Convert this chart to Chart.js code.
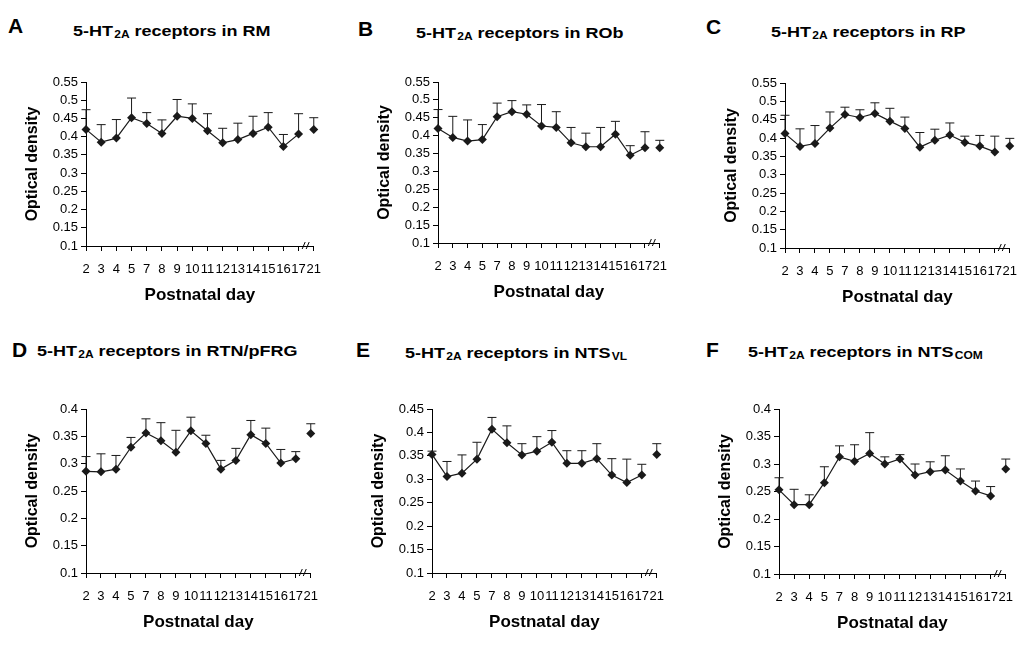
<!DOCTYPE html>
<html>
<head>
<meta charset="utf-8">
<script src="https://cdn.jsdelivr.net/npm/chart.js@4.4.0/dist/chart.umd.min.js"></script>
<style>
  body { margin: 0; background: #fff; width: 1036px; height: 646px; position: relative; overflow: hidden;
         font-family: "Liberation Sans", Arial, sans-serif; color: #000; }
  .letter { position: absolute; font-weight: bold; font-size: 21px; line-height: 21px; }
  .title { position: absolute; font-weight: bold; font-size: 15px; line-height: 15px; white-space: nowrap;
           transform: scaleX(1.2); transform-origin: left top; }
  .title sub { font-size: 10px; line-height: 0; vertical-align: -2px; margin-left: 1px; }
  canvas { position: absolute; }
</style>
</head>
<body>

<div class="letter" style="left:8px;top:15px">A</div>
<div class="title" style="left:73px;top:23px">5-HT<sub>2A</sub> receptors in RM</div>
<div class="letter" style="left:358px;top:18px">B</div>
<div class="title" style="left:416px;top:25px">5-HT<sub>2A</sub> receptors in ROb</div>
<div class="letter" style="left:706px;top:16px">C</div>
<div class="title" style="left:771px;top:24px">5-HT<sub>2A</sub> receptors in RP</div>

<div class="letter" style="left:12px;top:339px">D</div>
<div class="title" style="left:37px;top:343px">5-HT<sub>2A</sub> receptors in RTN/pFRG</div>
<div class="letter" style="left:356px;top:339px">E</div>
<div class="title" style="left:405px;top:345px">5-HT<sub>2A</sub> receptors in NTS<sub>VL</sub></div>
<div class="letter" style="left:706px;top:339px">F</div>
<div class="title" style="left:748px;top:344px">5-HT<sub>2A</sub> receptors in NTS<sub>COM</sub></div>

<script>
// postnatal days on the x axis (break between 17 and 21)
var days = ['2', '3', '4', '5', '7', '8', '9', '10', '11', '12', '13', '14', '15', '16', '17', '21'];

// optical density, mean and SEM (upper bar only)
var rmMean  = [0.420, 0.385, 0.396, 0.452, 0.436, 0.409, 0.456, 0.450, 0.416, 0.383, 0.392, 0.409, 0.426, 0.373, 0.407, 0.420];
var rmSem   = [0.054, 0.048, 0.051, 0.054, 0.030, 0.037, 0.046, 0.040, 0.047, 0.040, 0.045, 0.047, 0.040, 0.033, 0.056, 0.032];

var robMean = [0.420, 0.395, 0.385, 0.389, 0.453, 0.467, 0.460, 0.427, 0.423, 0.380, 0.369, 0.369, 0.404, 0.345, 0.366, 0.366];
var robSem  = [0.053, 0.059, 0.059, 0.042, 0.038, 0.031, 0.026, 0.060, 0.044, 0.043, 0.038, 0.054, 0.036, 0.027, 0.045, 0.021];

var rpMean  = [0.412, 0.377, 0.385, 0.427, 0.464, 0.456, 0.467, 0.446, 0.426, 0.375, 0.394, 0.408, 0.388, 0.378, 0.362, 0.378];
var rpSem   = [0.050, 0.048, 0.049, 0.044, 0.020, 0.021, 0.029, 0.035, 0.031, 0.040, 0.030, 0.033, 0.017, 0.029, 0.043, 0.021];

var rtnMean = [0.286, 0.285, 0.290, 0.330, 0.356, 0.342, 0.321, 0.360, 0.337, 0.290, 0.306, 0.353, 0.337, 0.301, 0.309, 0.355];
var rtnSem  = [0.027, 0.033, 0.025, 0.018, 0.026, 0.033, 0.040, 0.025, 0.015, 0.016, 0.022, 0.026, 0.028, 0.025, 0.013, 0.018];

var ntsvlMean = [0.353, 0.306, 0.313, 0.343, 0.407, 0.378, 0.352, 0.360, 0.379, 0.334, 0.334, 0.344, 0.309, 0.293, 0.309, 0.353];
var ntsvlSem  = [0.007, 0.032, 0.039, 0.036, 0.025, 0.036, 0.024, 0.031, 0.025, 0.027, 0.027, 0.032, 0.035, 0.050, 0.023, 0.023];

var ntscomMean = [0.253, 0.226, 0.226, 0.266, 0.313, 0.305, 0.319, 0.300, 0.309, 0.280, 0.286, 0.289, 0.269, 0.251, 0.242, 0.291];
var ntscomSem  = [0.022, 0.028, 0.018, 0.029, 0.020, 0.030, 0.038, 0.013, 0.008, 0.020, 0.018, 0.026, 0.022, 0.018, 0.017, 0.018];

// y tick labels
var ticks055 = [0.1, 0.15, 0.2, 0.25, 0.3, 0.35, 0.4, 0.45, 0.5, 0.55];
var ticks045 = [0.1, 0.15, 0.2, 0.25, 0.3, 0.35, 0.4, 0.45];
var ticks040 = [0.1, 0.15, 0.2, 0.25, 0.3, 0.35, 0.4];

var FONT = '"Liberation Sans", Arial, sans-serif';
var YW = 70, XH = 64, PT = 12, PR = 12;

// upward error bars with caps
var errorBars = {
  id: 'errorBars',
  beforeDatasetsDraw: function(chart) {
    var ctx = chart.ctx;
    var ds = chart.data.datasets[0];
    var meta = chart.getDatasetMeta(0);
    var y = chart.scales.y;
    ctx.save();
    ctx.strokeStyle = '#1a1a1a';
    ctx.lineWidth = 1;
    meta.data.forEach(function(pt, i) {
      var top = y.getPixelForValue(ds.data[i] + ds.sem[i]);
      ctx.beginPath();
      ctx.moveTo(pt.x, pt.y);
      ctx.lineTo(pt.x, top);
      ctx.moveTo(pt.x - 4.5, top);
      ctx.lineTo(pt.x + 4.5, top);
      ctx.stroke();
    });
    ctx.restore();
  },
  // axis break "//" between 17 and 21
  afterDraw: function(chart) {
    var ctx = chart.ctx;
    var x = chart.scales.x;
    var n = days.length;
    var xm = (x.getPixelForValue(n - 2) + x.getPixelForValue(n - 1)) / 2;
    var yb = chart.chartArea.bottom;
    ctx.save();
    ctx.strokeStyle = '#000';
    ctx.lineWidth = 1;
    ctx.beginPath();
    ctx.moveTo(xm - 4, yb + 3); ctx.lineTo(xm - 1, yb - 4);
    ctx.moveTo(xm, yb + 3); ctx.lineTo(xm + 3, yb - 4);
    ctx.stroke();
    ctx.restore();
  }
};

function makePanel(mean, sem, yTicks, left, top, right, bottom) {
  var cv = document.createElement('canvas');
  var w = Math.round(right - left) + YW + PR;
  var h = PT + Math.round(bottom - top) + XH;
  cv.width = w;
  cv.height = h;
  cv.style.left = Math.round(left - YW) + 'px';
  cv.style.top = Math.round(top - PT) + 'px';
  document.body.appendChild(cv);

  var last = days.length - 1;
  new Chart(cv, {
    type: 'line',
    data: {
      labels: days,
      datasets: [{
        data: mean,
        sem: sem,
        borderColor: '#1a1a1a',
        borderWidth: 1.2,
        pointStyle: 'rectRot',
        pointRadius: 4.5,
        pointBackgroundColor: '#1a1a1a',
        pointBorderColor: '#1a1a1a',
        pointBorderWidth: 0,
        clip: false,
        segment: {
          borderColor: function(c) { return c.p1DataIndex === last ? 'rgba(0,0,0,0)' : undefined; }
        }
      }]
    },
    options: {
      responsive: false,
      animation: false,
      devicePixelRatio: 1,
      layout: { padding: { left: 0, right: PR, top: PT, bottom: 0 } },
      plugins: { legend: { display: false }, tooltip: { enabled: false } },
      scales: {
        x: {
          type: 'category',
          offset: false,
          grid: { display: true, drawOnChartArea: false, drawTicks: true, tickLength: 5, color: '#000', lineWidth: 1 },
          border: { display: true, color: '#000', width: 1 },
          ticks: { color: '#000', font: { family: FONT, size: 13 }, padding: 11, maxRotation: 0, autoSkip: false },
          title: { display: true, text: 'Postnatal day', color: '#000', font: { family: FONT, size: 17, weight: 'bold' }, padding: { top: 4, bottom: 4 } },
          afterFit: function(s) { s.height = XH; }
        },
        y: {
          min: yTicks[0],
          max: yTicks[yTicks.length - 1],
          grid: { display: true, drawOnChartArea: false, drawTicks: true, tickLength: 5, color: '#000', lineWidth: 1 },
          border: { display: true, color: '#000', width: 1 },
          ticks: {
            color: '#000', font: { family: FONT, size: 13 }, padding: 3, autoSkip: false,
            callback: function(v) { return String(+(+v).toFixed(2)); }
          },
          afterBuildTicks: function(s) { s.ticks = yTicks.map(function(v) { return { value: v }; }); },
          title: { display: true, text: 'Optical density', color: '#000', font: { family: FONT, size: 16, weight: 'bold' }, padding: { top: 7, bottom: 4 } },
          afterFit: function(s) { s.width = YW; }
        }
      }
    },
    plugins: [errorBars]
  });
}

makePanel(rmMean, rmSem, ticks055, 86, 82, 320, 246);
makePanel(robMean, robSem, ticks055, 438, 82, 666, 243);
makePanel(rpMean, rpSem, ticks055, 785, 83, 1016, 248);
makePanel(rtnMean, rtnSem, ticks040, 86, 409, 317, 573);
makePanel(ntsvlMean, ntsvlSem, ticks045, 432, 409, 663, 573);
makePanel(ntscomMean, ntscomSem, ticks040, 779, 409, 1012, 574);
</script>
</body>
</html>
